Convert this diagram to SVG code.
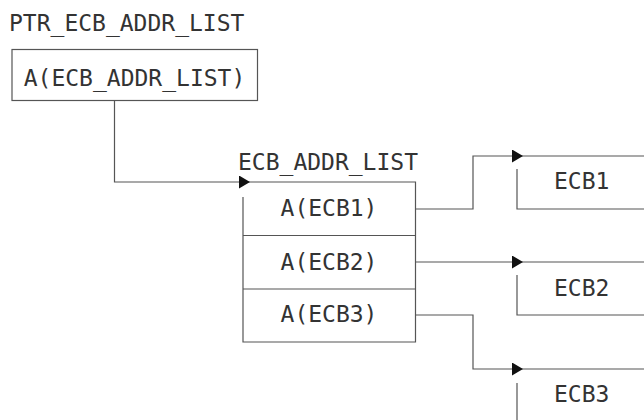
<svg xmlns="http://www.w3.org/2000/svg" width="644" height="420" viewBox="0 0 644 420">
<defs>
<style>
.t{font-family:"DejaVu Sans Mono","Liberation Mono",monospace;font-size:23px;fill:#333;}
.m{text-anchor:middle;}
.s{fill:none;stroke:#555;stroke-width:1.2;}
</style>
<marker id="ah" markerWidth="11" markerHeight="13" refX="11" refY="6.5" orient="auto" markerUnits="userSpaceOnUse">
<path d="M0,0 L11,6.5 L0,13 Z" fill="#111"/>
</marker>
</defs>
<rect width="644" height="420" fill="#fff"/>
<g id="ptr">
<text class="t" x="9" y="31">PTR_ECB_ADDR_LIST</text>
<rect class="s" x="12" y="49.5" width="245.5" height="51"/>
<text class="t m" x="134.5" y="86">A(ECB_ADDR_LIST)</text>
</g>
<g id="list">
<text class="t" x="238" y="170">ECB_ADDR_LIST</text>
<path class="s" d="M250,182 H415.5 V342 H243 V197"/>
<path class="s" d="M243,235.5 H415.5 M243,289 H415.5"/>
<text class="t m" x="329" y="216">A(ECB1)</text>
<text class="t m" x="329" y="270">A(ECB2)</text>
<text class="t m" x="329" y="322">A(ECB3)</text>
</g>
<g id="ecb1">
<path class="s" d="M523,156 H644 M517,169 V209 H644"/>
<text class="t" x="554" y="189">ECB1</text>
</g>
<g id="ecb2">
<path class="s" d="M523,262 H644 M517,275 V315 H644"/>
<text class="t" x="554" y="296">ECB2</text>
</g>
<g id="ecb3">
<path class="s" d="M523,369 H644 M517,383 V420"/>
<text class="t" x="554" y="402">ECB3</text>
</g>
<g id="connectors">
<path class="s" d="M114.5,100.5 V182 H250" marker-end="url(#ah)"/>
<path class="s" d="M415.5,209 H473 V156 H523" marker-end="url(#ah)"/>
<path class="s" d="M415.5,262 H523" marker-end="url(#ah)"/>
<path class="s" d="M415.5,315 H473 V369 H523" marker-end="url(#ah)"/>
</g>
</svg>
